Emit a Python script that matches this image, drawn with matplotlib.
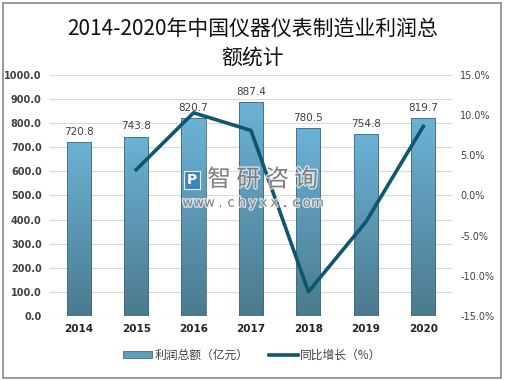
import numpy as np
import matplotlib
matplotlib.use("Agg")
import matplotlib.pyplot as plt
import matplotlib.patheffects as pe
from matplotlib.patches import Rectangle
from matplotlib.lines import Line2D
from matplotlib.colors import LinearSegmentedColormap

plt.rcParams["font.family"] = ["Noto Sans CJK SC", "DejaVu Sans"]

years = ["2014", "2015", "2016", "2017", "2018", "2019", "2020"]
profit = [720.8, 743.8, 820.7, 887.4, 780.5, 754.8, 819.7]
growth = [None, 3.2, 10.3, 8.1, -12.0, -3.3, 8.6]

BAR_TOP = "#6cb2d6"
BAR_BOT = "#4b7a8e"
LINE_C = "#0f566e"
GRID = "#d9d9d9"
TXT = "#404040"

fig = plt.figure(figsize=(5.05, 3.81), dpi=100)
fig.patch.set_facecolor("white")
ax = fig.add_axes([0.099, 0.171, 0.796, 0.632])
ax2 = ax.twinx()

x = np.arange(len(years))
w = 0.42
cmap = LinearSegmentedColormap.from_list("bar", [BAR_BOT, BAR_TOP])
grad = np.linspace(0, 1, 256).reshape(-1, 1)
for xi, v in zip(x, profit):
    rect = Rectangle((xi - w / 2, 0), w, v, facecolor="none",
                     edgecolor="#3f6b80", linewidth=0.6, zorder=3)
    ax.add_patch(rect)
    im = ax.imshow(grad, cmap=cmap, origin="lower", aspect="auto",
                   extent=(xi - w / 2, xi + w / 2, 0, v), zorder=2)
    im.set_clip_path(rect)
    ax.text(xi, v + 22, f"{v:.1f}", ha="center", va="bottom",
            fontsize=7.5, color=TXT, family="DejaVu Sans", zorder=4)

ax.set_xlim(-0.5, 6.5)
ax.set_ylim(0, 1000)
ax.set_yticks(np.arange(0, 1001, 100))
ax.set_yticklabels([f"{t:.1f}" for t in np.arange(0, 1001, 100)],
                   fontsize=7, fontweight="bold", color=TXT, family="DejaVu Sans")
ax.set_xticks(x)
ax.set_xticklabels(years, fontsize=7.5, fontweight="bold", color="#222222",
                   family="DejaVu Sans")
ax.tick_params(length=0, pad=6)
ax.grid(axis="y", color=GRID, linewidth=0.8, zorder=0)
ax.set_axisbelow(True)

gx = [xi for xi, g in zip(x, growth) if g is not None]
gy = [g for g in growth if g is not None]
ax2.plot(gx, gy, color=LINE_C, linewidth=2.6, zorder=5)
ax2.set_ylim(-15, 15)
ax2.set_yticks(np.arange(-15, 16, 5))
ax2.set_yticklabels([f"{t:.1f}%" for t in np.arange(-15, 16, 5)],
                    fontsize=7, color=TXT, family="DejaVu Sans")
ax2.tick_params(length=0, pad=6)

for a in (ax, ax2):
    for s in a.spines.values():
        s.set_visible(False)

# watermark
halo = [pe.withStroke(linewidth=2, foreground="white", alpha=0.7)]
for i, ch in enumerate("智研咨询"):
    fig.text(0.434 + i * 0.0575, 0.528, ch, ha="center", va="center", fontsize=17,
             color="#6f6f6f", alpha=0.85, zorder=10, path_effects=halo)
fig.add_artist(Rectangle((0.364, 0.505), 0.032, 0.046, transform=fig.transFigure,
                         facecolor="#3d7fc0", edgecolor="white", linewidth=0.8,
                         alpha=0.85, zorder=10))
fig.text(0.38, 0.528, "P", ha="center", va="center", fontsize=10, color="white",
         fontweight="bold", family="DejaVu Sans", zorder=11)
for i, ch in enumerate("www.chyxx.com"):
    fig.text(0.372 + i * 0.0214, 0.467, ch, ha="center", va="center", fontsize=9.5,
             color="#6f6f6f", alpha=0.85, family="DejaVu Sans", zorder=10,
             path_effects=halo)

fig.text(0.5, 0.921, "2014-2020年中国仪器仪表制造业利润总", ha="center", va="center",
         fontsize=15, color="#111111")
fig.text(0.5, 0.85, "额统计", ha="center", va="center", fontsize=15, color="#111111")

handles = [Rectangle((0, 0), 1, 1, facecolor="#5e9cb9", edgecolor="#3f6b80", linewidth=0.6),
           Line2D([0], [0], color=LINE_C, linewidth=2.6)]
fig.legend(handles, ["利润总额（亿元）", "同比增长（%）"], loc="center",
           bbox_to_anchor=(0.5, 0.068), ncol=2, frameon=False, fontsize=8.5,
           labelcolor=TXT, handlelength=2.4, handleheight=0.6, columnspacing=1.8,
           handletextpad=0.2)

fig.add_artist(Rectangle((0.006, 0.008), 0.986, 0.984, transform=fig.transFigure,
                         facecolor="none", edgecolor="#888888", linewidth=1.2))

fig.savefig("out.png", dpi=100, facecolor="white")
